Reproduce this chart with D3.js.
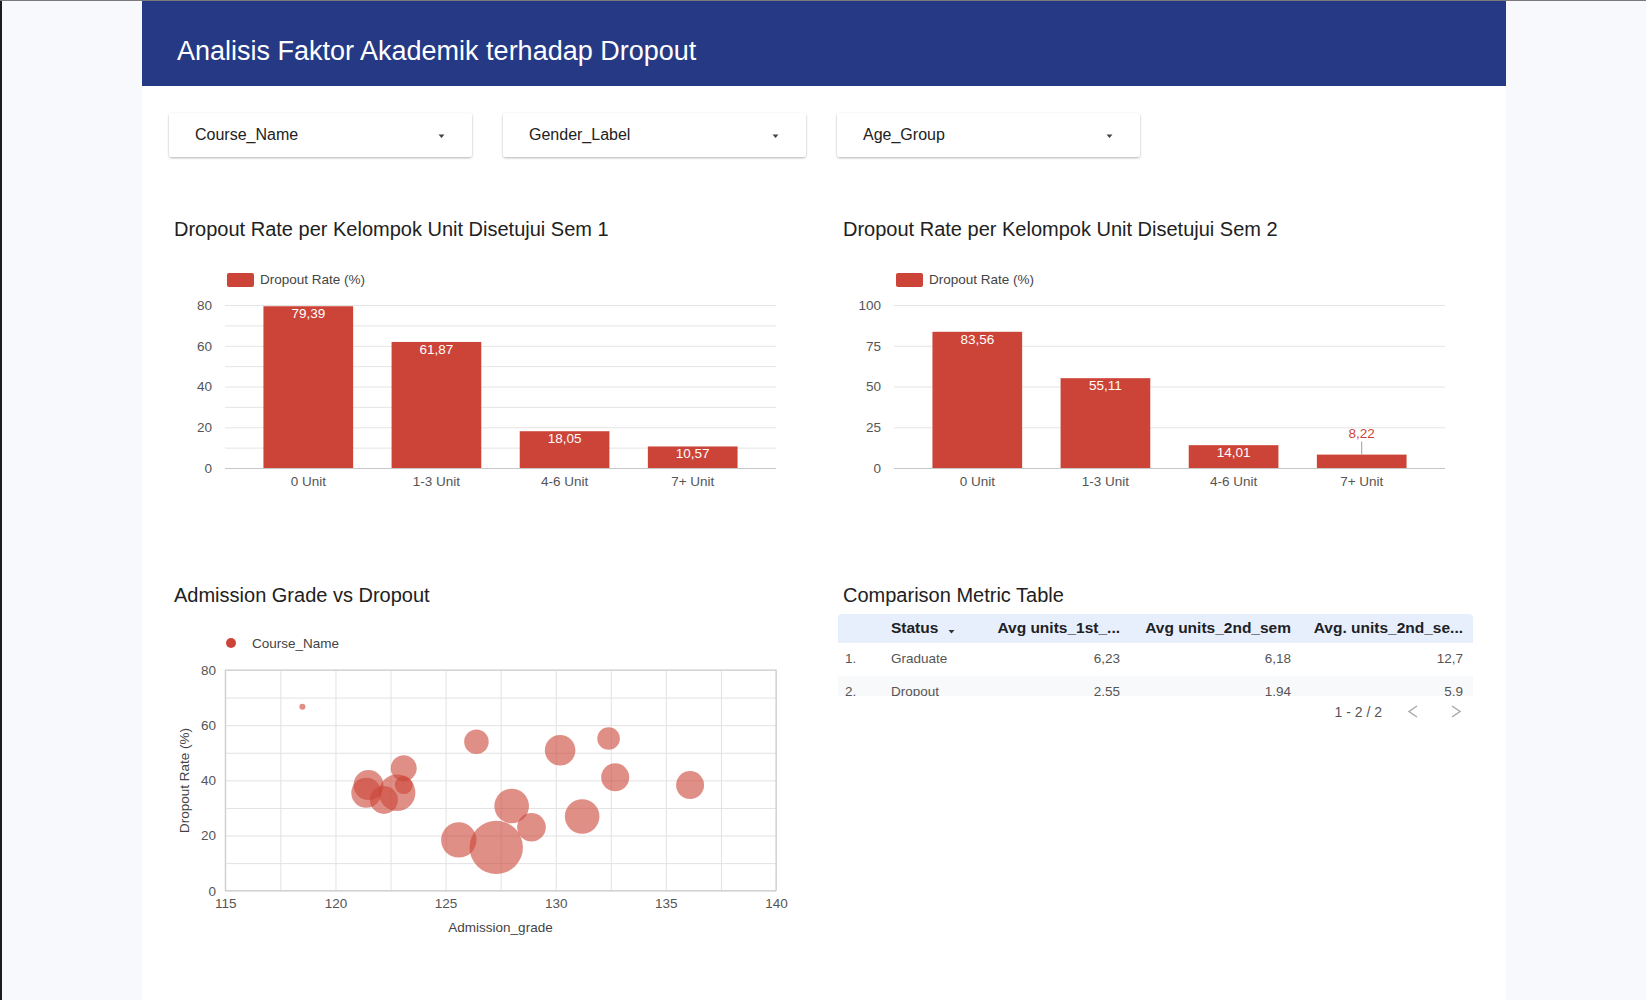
<!DOCTYPE html>
<html>
<head>
<meta charset="utf-8">
<script src="https://cdn.jsdelivr.net/npm/d3@7"></script>
<style>
  body { margin: 0; background: #f8f9fc; overflow: hidden; }
  svg { display: block; font-family: "Liberation Sans", Arial, sans-serif; }
  .title { font-size: 20px; fill: #212121; }
  .axis text { font-size: 13.5px; fill: #555; font-family: "Liberation Sans", Arial, sans-serif; }
</style>
</head>
<body>
<script>
// ---- data ----
const filterLabels = ["Course_Name", "Gender_Label", "Age_Group"];

const unitGroups = ["0 Unit", "1-3 Unit", "4-6 Unit", "7+ Unit"];
const dropoutSem1 = [79.39, 61.87, 18.05, 10.57];
const dropoutSem2 = [83.56, 55.11, 14.01, 8.22];
const sem1Ticks = [0, 20, 40, 60, 80];
const sem2Ticks = [0, 25, 50, 75, 100];

// one bubble per course
const admissionGrade = [118.5, 126.4, 130.2, 132.4, 123.1, 132.7, 136.1, 121.5, 121.4, 122.8, 122.2, 123.1, 128.0, 128.9, 125.6, 127.3, 131.2];
const dropoutRate   = [66.7, 54.0, 50.9, 55.2, 44.4, 41.1, 38.3, 38.3, 35.5, 35.5, 32.9, 38.3, 30.7, 23.0, 18.4, 15.7, 26.9];
const courseSize    = [10, 162, 251, 137, 181, 211, 211, 242, 242, 360, 211, 87, 322, 220, 336, 766, 322];
const xTicks = [115, 120, 125, 130, 135, 140];
const yTicks = [0, 20, 40, 60, 80];

const tableHeaders = ["Status", "Avg units_1st_...", "Avg units_2nd_sem", "Avg. units_2nd_se..."];
const tableStatus = ["Graduate", "Dropout"];
const tableUnits1 = ["6,23", "2.55"];
const tableUnits2 = ["6,18", "1.94"];
const tableUnits2b = ["12,7", "5.9"];

const red = "#cc4437";
const fmt = v => d3.format(".2f")(v).replace(".", ",");

const svg = d3.select("body").append("svg").attr("width", 1646).attr("height", 1000);

const defs = svg.append("defs");
defs.append("filter").attr("id", "shadow")
  .attr("x", "-5%").attr("y", "-20%").attr("width", "110%").attr("height", "150%")
  .append("feDropShadow").attr("dx", 0).attr("dy", 1).attr("stdDeviation", 1.3)
  .attr("flood-color", "#000").attr("flood-opacity", 0.3);
defs.append("clipPath").attr("id", "tblclip")
  .append("rect").attr("x", 830).attr("y", 610).attr("width", 660).attr("height", 86);

// page frame
svg.append("rect").attr("x", 142).attr("y", 0).attr("width", 1364).attr("height", 1000).attr("fill", "#fff");
svg.append("rect").attr("x", 0).attr("y", 0).attr("width", 2).attr("height", 1000).attr("fill", "#1c1c1c");
svg.append("rect").attr("x", 142).attr("y", 0).attr("width", 1364).attr("height", 86).attr("fill", "#253985");
svg.append("rect").attr("x", 0).attr("y", 0).attr("width", 1646).attr("height", 1).attr("fill", "#7a7a7a");
svg.append("text").attr("x", 177).attr("y", 60).attr("fill", "#fff").attr("font-size", 27)
  .text("Analisis Faktor Akademik terhadap Dropout");

// filter dropdowns
const dd = svg.selectAll(".dd").data(filterLabels).enter().append("g")
  .attr("class", "dd").attr("transform", (d, i) => `translate(${169 + i * 334},113)`);
dd.append("rect").attr("width", 303).attr("height", 44).attr("rx", 3)
  .attr("fill", "#fff").attr("filter", "url(#shadow)");
dd.append("text").attr("x", 26).attr("y", 27).attr("font-size", 16).attr("fill", "#222").text(d => d);
dd.append("path").attr("d", "M269.5,21.5 h6 l-3,3.5 z").attr("fill", "#444");

// ---- bar charts ----
function barChart(ox, title, values, ticks, gridStep) {
  const g = svg.append("g").attr("transform", `translate(${ox},0)`);
  const maxY = ticks[ticks.length - 1];
  g.append("text").attr("class", "title").attr("x", 174).attr("y", 236).text(title);

  g.append("rect").attr("x", 227).attr("y", 273).attr("width", 27).attr("height", 14).attr("rx", 2).attr("fill", red);
  g.append("text").attr("x", 260).attr("y", 284).attr("font-size", 13.5).attr("fill", "#444").text("Dropout Rate (%)");

  const x = d3.scaleBand().domain(unitGroups).range([225, 776]).paddingInner(0.3).paddingOuter(0.3);
  const y = d3.scaleLinear().domain([0, maxY]).range([468, 305]);

  g.append("g").attr("transform", "translate(225,0)")
    .call(d3.axisLeft(y).tickValues(d3.range(0, maxY + 0.001, gridStep)).tickSize(-551).tickFormat(""))
    .call(s => s.select(".domain").remove())
    .selectAll("line").attr("stroke", (d) => d === 0 ? "#c6c6c6" : "#e4e4e4");

  g.append("g").attr("class", "axis").attr("transform", "translate(212,0)")
    .call(d3.axisLeft(y).tickValues(ticks).tickSize(0).tickPadding(0))
    .call(s => s.select(".domain").remove());

  g.append("g").attr("class", "axis").attr("transform", "translate(0,468)")
    .call(d3.axisBottom(x).tickSize(0).tickPadding(8))
    .call(s => s.select(".domain").remove())
    .selectAll("text").attr("fill", "#444").attr("font-size", 13);

  const rows = unitGroups.map((k, i) => ({ k, v: values[i] }));
  g.selectAll(".bar").data(rows).enter().append("rect")
    .attr("x", d => x(d.k)).attr("width", x.bandwidth())
    .attr("y", d => y(d.v)).attr("height", d => y(0) - y(d.v)).attr("fill", red);

  rows.forEach(d => {
    const cx = x(d.k) + x.bandwidth() / 2, top = y(d.v);
    if (y(0) - top >= 16) {
      g.append("text").attr("x", cx).attr("y", top + 12).attr("text-anchor", "middle")
        .attr("font-size", 13.5).attr("fill", "#fff").text(fmt(d.v));
    } else {
      g.append("line").attr("x1", cx).attr("x2", cx).attr("y1", top - 13).attr("y2", top)
        .attr("stroke", "#9e9e9e");
      g.append("text").attr("x", cx).attr("y", top - 17).attr("text-anchor", "middle")
        .attr("font-size", 13.5).attr("fill", red).text(fmt(d.v));
    }
  });
}

barChart(0, "Dropout Rate per Kelompok Unit Disetujui Sem 1", dropoutSem1, sem1Ticks, 10);
barChart(669, "Dropout Rate per Kelompok Unit Disetujui Sem 2", dropoutSem2, sem2Ticks, 25);

// ---- bubble chart ----
(function () {
  const g = svg.append("g");
  g.append("text").attr("class", "title").attr("x", 174).attr("y", 602).text("Admission Grade vs Dropout");
  g.append("circle").attr("cx", 231).attr("cy", 643).attr("r", 5).attr("fill", red);
  g.append("text").attr("x", 252).attr("y", 648).attr("font-size", 13.5).attr("fill", "#444").text("Course_Name");

  const x = d3.scaleLinear().domain([115, 140]).range([225.3, 776]);
  const y = d3.scaleLinear().domain([0, 80]).range([890.7, 670]);
  const r = d3.scaleSqrt().domain([0, d3.max(courseSize)]).range([0, 26.7]);

  g.append("g").attr("transform", "translate(0,890.7)")
    .call(d3.axisBottom(x).tickValues(d3.range(115, 140.01, 2.5)).tickSize(-220.7).tickFormat(""))
    .call(s => s.select(".domain").remove())
    .selectAll("line").attr("stroke", "#e2e2e2");
  g.append("g").attr("transform", "translate(225.3,0)")
    .call(d3.axisLeft(y).tickValues(d3.range(0, 80.01, 10)).tickSize(-550.7).tickFormat(""))
    .call(s => s.select(".domain").remove())
    .selectAll("line").attr("stroke", "#e2e2e2");
  g.append("rect").attr("x", 225.3).attr("y", 670).attr("width", 550.7).attr("height", 220.7)
    .attr("fill", "none").attr("stroke", "#c8c8c8");

  g.append("g").attr("class", "axis").attr("transform", "translate(216,0)")
    .call(d3.axisLeft(y).tickValues(yTicks).tickSize(0).tickPadding(0))
    .call(s => s.select(".domain").remove());
  g.append("g").attr("class", "axis").attr("transform", "translate(0,890.7)")
    .call(d3.axisBottom(x).tickValues(xTicks).tickSize(0).tickPadding(8))
    .call(s => s.select(".domain").remove());

  g.append("text").attr("transform", "translate(189,780.5) rotate(-90)").attr("text-anchor", "middle")
    .attr("font-size", 13.5).attr("fill", "#444").text("Dropout Rate (%)");
  g.append("text").attr("x", 500.5).attr("y", 932).attr("text-anchor", "middle")
    .attr("font-size", 13.5).attr("fill", "#444").text("Admission_grade");

  const pts = admissionGrade.map((a, i) => ({ a, d: dropoutRate[i], s: courseSize[i] }));
  g.selectAll(".bub").data(pts).enter().append("circle")
    .attr("cx", p => x(p.a)).attr("cy", p => y(p.d)).attr("r", p => Math.max(3, r(p.s)))
    .attr("fill", red).attr("fill-opacity", 0.6);
})();

// ---- comparison table ----
(function () {
  const g = svg.append("g");
  g.append("text").attr("class", "title").attr("x", 843).attr("y", 602).text("Comparison Metric Table");

  const t = g.append("g").attr("clip-path", "url(#tblclip)");
  t.append("path").attr("d", "M838,643 v-25 a4,4 0 0 1 4,-4 h627 a4,4 0 0 1 4,4 v25 z").attr("fill", "#e8effc");
  t.append("rect").attr("x", 838).attr("y", 676).attr("width", 635).attr("height", 33).attr("fill", "#f8f9fa");

  const rightEdges = [1120, 1291, 1463];
  t.append("text").attr("x", 891).attr("y", 633).attr("font-size", 15.5).attr("font-weight", "bold")
    .attr("fill", "#202124").text(tableHeaders[0]);
  t.append("path").attr("d", "M948.5,630 h6 l-3,3.5 z").attr("fill", "#333");
  tableHeaders.slice(1).forEach((h, i) => {
    t.append("text").attr("x", rightEdges[i]).attr("y", 633).attr("text-anchor", "end")
      .attr("font-size", 15.5).attr("font-weight", "bold").attr("fill", "#202124").text(h);
  });

  tableStatus.forEach((st, i) => {
    const by = 662.7 + i * 33;
    const cells = [tableUnits1[i], tableUnits2[i], tableUnits2b[i]];
    t.append("text").attr("x", 845).attr("y", by).attr("font-size", 13.5).attr("fill", "#555").text((i + 1) + ".");
    t.append("text").attr("x", 891).attr("y", by).attr("font-size", 13.5).attr("fill", "#555").text(st);
    cells.forEach((c, j) => {
      t.append("text").attr("x", rightEdges[j]).attr("y", by).attr("text-anchor", "end")
        .attr("font-size", 13.5).attr("fill", "#555").text(c);
    });
  });

  g.append("text").attr("x", 1382).attr("y", 717).attr("text-anchor", "end")
    .attr("font-size", 14).attr("fill", "#555").text("1 - 2 / 2");
  g.append("path").attr("d", "M1417,706 l-8,5.5 l8,5.5").attr("fill", "none").attr("stroke", "#aaa").attr("stroke-width", 1.5);
  g.append("path").attr("d", "M1452,706 l8,5.5 l-8,5.5").attr("fill", "none").attr("stroke", "#aaa").attr("stroke-width", 1.5);
})();
</script>
</body>
</html>
